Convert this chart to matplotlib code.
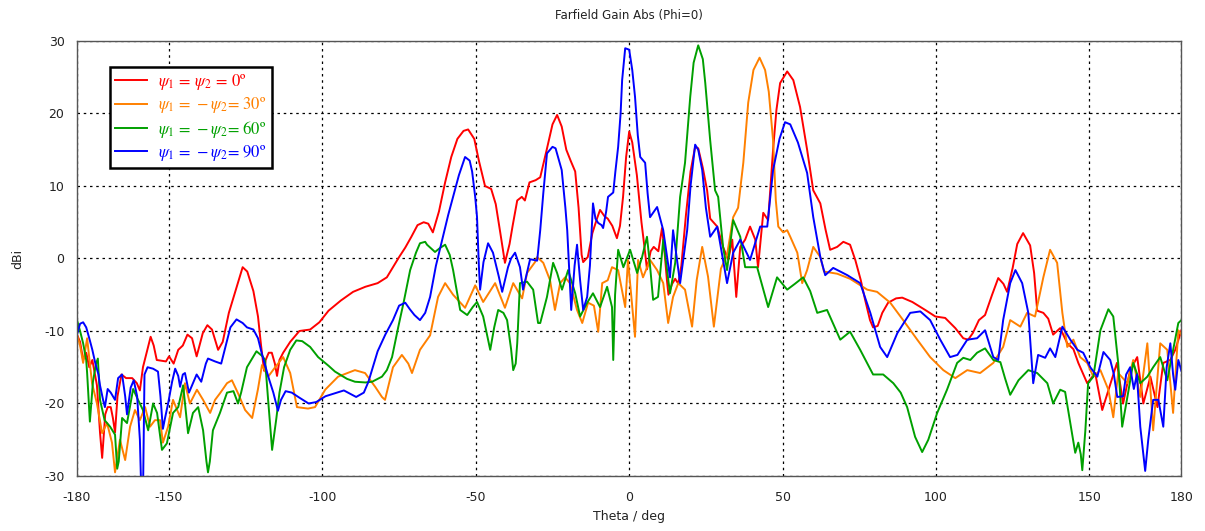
import matplotlib
matplotlib.use("Agg")
import matplotlib.pyplot as plt

plt.rcParams['axes.unicode_minus'] = False
plt.rcParams['mathtext.fontset'] = 'stix'
plt.rcParams['font.family'] = 'DejaVu Sans'

# --- data (theta in deg, gain in dBi) ---
theta_red = [-180, -179, -178, -177, -176, -175, -173.5, -172.5, -171.8, -170.8, -170, -169, -168.3, -167.6,
             -166.8, -165.5, -164, -162, -160.5, -159.5, -158.5, -157, -156, -155, -154, -151, -150, -148.5,
             -147, -145.5, -144, -142.5, -141, -139, -137.5, -136, -134, -132.5, -130.5, -128, -126, -124.5,
             -122.5, -121, -120, -119, -118.5, -117.5, -116.5, -115.5, -114.8, -114, -112.8, -110.5, -107.5,
             -104, -101, -98, -94, -90, -86, -82, -79, -77, -75, -73, -71, -69, -67, -65.5, -64, -62, -60, -58,
             -56, -54, -52.5, -50.5, -49, -47, -45, -43.5, -42, -40.5, -39, -38, -36.5, -35, -34, -32.5, -30.5,
             -29, -27, -25, -23.5, -22, -20.5, -19, -17.6, -16.5, -15.5, -15, -13.5, -12, -10.5, -9.5, -8, -7,
             -5.5, -4, -3, -2, -1, 0, 1, 2.5, 4, 5, 5.8, 7, 8, 9.5, 10.7, 11.5, 12.3, 12.8, 14, 15, 16, 17, 18.5,
             20, 21.5, 22.5, 24, 25.4, 26.4, 28.7, 30.6, 32.3, 33.6, 34.9, 36.2, 37.8, 39.4, 41.1, 42, 43.7, 45.3,
             46.9, 48, 49.2, 51.5, 53.5, 55.7, 58, 60, 62.3, 64, 65.5, 67.8, 69.8, 72, 73.7, 75.5, 76.9, 78.5,
             79.5, 81, 82.5, 84.4, 87, 89, 92.3, 96.5, 99.8, 103, 106.3, 108.9, 110.5, 112, 114, 116, 118.3,
             120.3, 122, 123.2, 125, 126.5, 128.4, 130.7, 132, 133, 135, 136.6, 138.2, 140.5, 142.8, 144.8,
             146.4, 149.3, 151.9, 154.2, 156.8, 159, 161, 163.3, 165.6, 167.6, 169.9, 172.2, 174.1, 176.4, 178,
             180]
gain_red = [-10.5, -11.5, -14.0, -13.0, -15.0, -14.0, -17.5, -24, -27.5, -21.5, -20.5, -20.5, -22, -24,
            -19, -16, -16.5, -16.5, -17.2, -18.2, -15, -12.5, -10.8, -12, -14, -14.2, -13.5, -14.5,
            -12.6, -12, -10.5, -11, -13.5, -10.3, -9.2, -9.8, -12.6, -11.5, -7.5, -4, -1.2, -1.8,
            -4.5, -8, -12, -15.5, -14, -13, -13, -14.5, -16.2, -14, -13, -11.5, -10,
            -9.8, -8.8, -7.2, -5.8, -4.6, -3.9, -3.4, -2.6, -1.2, 0.2, 1.5, 3, 4.6, 5, 4.8, 3.6, 6.5, 10.5, 14,
            16.5, 17.6, 17.8, 16.5, 13.5, 10, 9.6, 7.5, 3.5, -0.6, 2, 4.5, 8, 8.5, 8, 10.5, 10.8,
            11.2, 14.8, 18.5, 19.8, 18.2, 15, 13.4, 12, 7, 0.5, -0.5, 0.2, 3.5, 5.5, 6.7, 5.8, 5.5,
            4.5, 2.8, 4.5, 8.5, 14, 17.5, 16, 11.5, 5, 1.5, -1.5, 1, 1.6, 1, 4.2, 1, -3, -5, -3.5, -2.8, -3.5, -1, 6,
            12, 15.4, 15.2, 12.5, 9.4, 5.5, 4.4, 1.6, -0.2, 2.6, -5.3, 1.6, 2.6, 4.4, 2.6, -1.2, 6.3, 5.3,
            15, 20.5, 24.2, 25.8, 24.6, 20.9, 15, 9.4, 7.6, 4, 1.2, 1.6, 2.3, 1.9, -0.2, -3, -5.7, -8.5,
            -9.5, -9.3, -7.5, -6.1, -5.5, -5.4, -6, -7.1, -8, -8.2, -9.6, -11, -11.2, -10.3, -8.5, -7.8, -5,
            -2.7, -3.5, -4.6, -1.3, 2, 3.5, 1.8, -2, -7.2, -7.5, -8.3, -10.5, -9.6, -11.7, -12.5,
            -14.4, -17.2, -15.8, -20.9, -17.4, -14.4, -20, -15.4, -13.6, -20, -16.3, -20.5, -14.4, -14, -12.6,
            -9.9]

theta_orange = [-180, -179, -178, -176.7, -175.1, -173.5, -171.8, -170.2, -168.6, -167.6, -166, -164.3, -162.7,
                -161.1, -159.5, -157.8, -156.2, -154.6, -152.9, -152, -150.3, -148.7, -146.4, -144.8, -143.2,
                -140.9, -138.9, -136.6, -135, -133.4, -131.1, -129.5, -127.5, -125.2, -122.9, -121, -119.7,
                -117.7, -115.4, -112.8, -110.5, -108.3, -104.7, -102.4, -99.1, -94.9, -89.4, -86.1, -82.8,
                -80.6, -79.6, -77, -74.1, -72, -70.8, -68.2, -64.9, -62.3, -60, -57.4, -53.5, -50.2, -47.6,
                -43.7, -40.5, -37.8, -34.9, -33.3, -30.7, -30, -28, -25.8, -24.2, -22.5, -20.9, -19.3, -17,
                -15.3, -13.4, -11.5, -10.1, -8.8, -7, -5.6, -3.6, -1.3, -0.4, 1.9, 2.9, 4.5, 6.8, 9.1, 11.1,
                12.7, 14.3, 16, 18.2, 20.5, 22, 23.8, 25.7, 27.6, 29.9, 31.9, 33.9, 35.5, 37.2, 38.8, 40.5,
                42.5, 44.3, 45.5, 46.9, 47.8, 48.6, 50.2, 51.5, 52.5, 54.8, 56.4, 58, 60, 62.3, 63.5, 67.8, 72,
                77.6, 80.8, 85.1, 89.3, 93.9, 98.1, 102.4, 106.3, 110.2, 114.4, 118.7, 121.9, 124.2, 127.5,
                129.7, 132.3, 135, 137.2, 139.5, 141.2, 142.8, 144.8, 147, 149.3, 151.3, 153.6, 156.2, 157.8,
                159.4, 162.4, 164.3, 166.6, 168.9, 170.8, 173.1, 175.4, 177.3, 179, 180]
gain_orange = [-10.5, -12, -14.4, -11, -17.2, -20, -24.1, -22.7, -25.4, -29.5, -25, -27.8, -23.2,
               -20.9, -22.3, -20.5, -23.2, -22.3, -22.3, -25.4, -23.2, -19.5, -21.9, -17.2, -20,
               -18.1, -19.5, -21.3, -19.5, -18.6, -17.2, -16.8, -18.6, -20.9, -22, -18, -14.7,
               -16.3, -15, -13.6, -15.8, -20.5, -20.7, -20.5, -18.1, -16.3, -15.4, -15.8, -17.7,
               -19.1, -19.5, -15, -13.3, -14.5, -15.8, -12.6, -10.6, -5.3, -3.4, -5, -6.8, -3.7, -6,
               -3.4, -6.8, -3.4, -5.5, -2, -0.5, 0.2, -0.6, -3, -7.1, -3.4, -2.6, -3.4, -7.1,
               -8.9, -6.1, -6.5, -10.1, -3.4, -3, -1.2, -1.6, -6.7, -0.2, -10.8, -0.2, -2.6, -0.2, -1.6, -3.4,
               -8.9, -5.3, -3.4, -4.3, -9.4, -3, 1.6, -2.5, -9.4, -1.4, 0.5, 5.7, 7, 13.2, 21.5, 26,
               27.7, 26, 23, 16.3, 8, 4.4, 3.6, 3.9, 3, 0.8, -3.4, -1.6, 1.6, 0.2, -1.8, -2.1, -2.8,
               -4.3, -4.6, -6.1, -8.5, -11.2, -13.6, -15.4, -16.5, -15.4, -15.8, -14.4, -12.2, -8.5, -9.4,
               -7.5, -8, -2.6, 1.2, -0.6, -7.5, -12.2, -11.2, -13.6, -14.4, -16.3, -15.4, -18.1, -21.9,
               -15.8, -17.2, -14, -19.1, -11.7, -23.7, -11.7, -12.6, -21.3, -9.9, -10.5]

theta_green = [-180, -179, -178, -177, -176.7, -175.8, -174.8, -173.8, -173.2, -172.5, -171, -169.2, -167.6,
               -166.9, -166.4, -165.3, -163.7, -161.7, -160.1, -158.5, -156.8, -155.2, -153.9, -152.3, -150.7,
               -148.7, -147, -145.4, -143.8, -142.2, -140.5, -138.9, -137.8, -137.3, -136.7, -135.7, -133.4,
               -131.1, -130.1, -129, -127.5, -126.5, -124.6, -121.5, -119.5, -118.7, -117.7, -116.4, -115,
               -114, -112.5, -110.5, -108.5, -106.6, -104, -101.4, -98, -95.9, -92, -89.4, -86, -83.8, -80.6,
               -79, -77.3, -75.3, -73.5, -71.4, -69.5, -68.2, -66.5, -65.9, -63.3, -61.5, -60, -58.5, -57.4,
               -55.1, -52.8, -51, -49.6, -47.6, -45.3, -44, -42.7, -41, -39.8, -38.5, -37.8, -37, -36.5,
               -35.6, -33.3, -31.3, -29.7, -29, -26.8, -24.8, -23.5, -21.9, -19.9, -17.6, -16, -13.7, -11.8,
               -9.5, -7.2, -5.6, -5.2, -4.6, -3.6, -1.9, 0.3, 2.6, 4.2, 5.8, 6.8, 7.8, 9.4, 11.1, 13.3, 15,
               16.6, 18.2, 19.9, 21, 22.5, 24, 24.8, 26.4, 28, 29, 30.6, 31.9, 33.9, 36.2, 37.8, 41.7, 45.3,
               48.2, 51.5, 54, 56.7, 59, 61.3, 64.5, 66.5, 68.8, 72, 75.3, 79.5, 82.8, 86.1, 88.5, 90.6, 93.2,
               95.5, 97.5, 100.4, 103.6, 106.9, 108.9, 111.2, 113.4, 116, 118.7, 121, 122.5, 124.2, 126.9,
               130.1, 133, 136.3, 138.2, 140.5, 142.1, 143.8, 145.4, 146.4, 147.2, 147.7, 148.7, 149.6,
               151.3, 153.6, 156.2, 157.8, 159.4, 160.7, 162.4, 164.3, 166.6, 168.9, 170.8, 173.1, 175.4,
               177.3, 179, 180]
gain_green = [-8.5, -10, -11.7, -14, -15.8, -22.5, -17, -14.5, -13.8, -19.5, -22.3, -23.2, -24.3,
              -29, -28, -22, -22.7, -18, -19.5, -20.9, -23.7, -20, -21.3, -26.4, -25.5,
              -21.3, -20.5, -17.5, -24.1, -21.3, -20.5, -23.7, -28, -29.5, -28, -23.7, -21.3,
              -18.5, -18.4, -18.3, -20, -18.5, -15, -12.8, -13.5, -14, -19.5, -26.4, -22,
              -18.5, -15, -12.6, -11.3, -11.4, -12.2, -13.6, -14.8, -15.6, -16.6, -17, -17.1, -17, -16.3,
              -15.4, -13.6, -9.5, -6, -1.6, 0.8, 2.1, 2.3, 1.9, 0.9, 1.5, 1.9, 0.5, -1.6,
              -7.1, -7.8, -6.7, -6, -8, -12.6, -9.5, -7.1, -7.5, -8.5, -12.5, -15.4, -14.5, -11.7,
              -3.4, -3.2, -4.3, -8.9, -8.9, -5.3, -0.6, -2, -4.3, -1.6, -4.8, -8, -6.1, -4.8,
              -6.7, -3.9, -6.7, -14, -5, 1.2, -1.2, 1.2, -2, 0.2, 3, -1, -5.7, -5.3, 2.6, -4.8, -0.6,
              8.5, 13.2, 22.3, 27, 29.4, 27.5, 24.2, 16.3, 9.4, 8.5, 1.6, -1.6, 5.3, 3, -1.2, -1.2, -6.7,
              -2.6, -4.3, -3.5, -2.6, -4.5, -7.5, -7.1, -9, -11.2, -10.1, -12.6, -16, -16, -17.2, -18.5, -20.5, -24.6,
              -26.7, -25, -21.3, -18.1, -14.4, -13.7, -14, -13, -12.4, -14, -14.3, -16.5, -18.8, -16.8,
              -15.4, -15.8, -17.2, -20, -18.1, -18.4, -22.7, -26.8, -25.4, -27, -29.2, -23.7, -17.2,
              -16.3, -9.9, -7, -8, -14.4, -23.2, -19.1, -14.4, -17.2, -16.3, -15, -13.6, -16.8,
              -12.6, -8.9, -8.5]

theta_blue = [-180, -179, -178, -177, -176, -175, -174, -173, -172.5, -171.5, -170.9, -170, -169, -167.6,
              -166.6, -165.3, -164.3, -163.7, -162.5, -161.5, -160.4, -159.5, -159, -158.5, -158, -157, -155.2,
              -153.6, -152.8, -152, -151.3, -150.3, -149, -148, -147, -146.4, -145.5, -144.8, -143.5, -143,
              -141, -139.5, -138, -137.3, -135, -133, -131.5, -130, -128, -126, -124.6, -122.5, -121, -119.7,
              -117.5, -116, -114.5, -113.5, -112, -110, -107.5, -104.5, -102, -99, -96, -93, -89, -86.5, -85,
              -82, -79.5, -77, -75, -73, -71.5, -70, -68.2, -66.5, -64.9, -63, -60.7, -59, -57.4, -55.5, -53.5,
              -52, -51.2, -50.2, -49.6, -49, -48.6, -47.5, -46, -44.4, -42.5, -41.4, -39.5, -38.5, -37.2,
              -35.6, -34.6, -32.3, -30, -29, -28, -26.8, -25, -24, -22, -20.8, -20.2, -19.5, -18.9, -17.8,
              -17, -16, -15, -13.7, -12.8, -11.8, -11, -10.1, -9, -8.5, -7.5, -6.9, -5.2, -4.5, -3.6, -2.8,
              -2.3, -1.3, 0, 1, 1.9, 2.8, 3.6, 5.2, 6, 6.8, 9.1, 11.1, 13.3, 14.3, 16.6, 18.9, 20, 21.5, 22.5,
              23.8, 25, 26.4, 28.7, 30.5, 31.9, 33.9, 36.2, 39.4, 42.7, 45, 46.9, 49, 50.8, 52.5, 55, 58, 60,
              62.3, 63.9, 66.5, 71.1, 75.3, 78.6, 81.8, 84.1, 87.4, 91.6, 94.9, 98.1, 101.4, 104.6, 107,
              110.2, 113.4, 116, 118.7, 120.3, 121.9, 124.2, 125.9, 128.1, 130.1, 131.7, 133.3, 135.6, 137.2,
              138.9, 141.2, 143.8, 146.1, 148, 150.3, 152.6, 154.6, 156.8, 158, 159.1, 161, 162, 163.3, 164.5,
              165.5, 166.6, 168.2, 169.2, 170.8, 172.5, 174.1, 175.2, 176.4, 177.3, 178, 179, 180]
gain_blue = [-10.5, -9, -8.8, -9.5, -11, -12.6, -14.5, -16, -17.5, -19.5, -20.5, -18, -18.5, -19.5,
             -16.5, -16, -19, -21.5, -17.8, -16.8, -19, -25, -33, -33, -16, -15, -15.2,
             -15.6, -19, -23.5, -22, -20, -17, -15.2, -16.2, -17.7, -16, -15.8, -18.5, -18,
             -16, -17, -14.5, -13.8, -14.2, -14.5, -12, -9.5, -8.4, -8.9, -9.5, -9.8, -11, -13.2,
             -16.5, -18.5, -21, -19.5, -18.3, -18.5, -19.2, -20, -19.8, -19, -18.6, -18.2, -19.1, -18.5, -17,
             -12.8, -10.5, -8.5, -6.5, -6.1, -7, -7.8, -8.5, -7.5, -5.3, -1, 3, 6, 8.5, 11.5, 14,
             13.5, 12, 8.5, 5.7, -1, -4.3, -0.5, 2.1, 0.8, -2.5, -4.6, -1.2, 0, 0.8,
             -1.2, -4.3, -0.1, -0.3, 3.9, 9, 14.5, 15.4, 15.2, 12.2, 7, 3.9, -2, -7.1, -1,
             1.9, -3, -7.1, -5.3, -1, 7.6, 5.5, 4.9, 4.6, 4.2, 6.5, 8.5, 9.1, 12, 15.4, 20,
             24.6, 29, 28.8, 26, 22.3, 17, 14, 13.2, 9, 5.7, 7.1, 3.9, -2.6, 3.9, -3.4, 3.9, 10, 15.7, 15,
             12.2, 7, 3, 4.4, 0, -3.4, 0.8, 2.6, -0.2, 4.4, 4.4, 12.2, 16.5, 18.8, 18.5, 16, 11.8, 5.7,
             0.2, -2.3, -1.3, -2.3, -3.4, -7.5, -12.2, -13.6, -10.3, -7.5, -7.3, -8.5, -11.2, -13.6, -13.3,
             -11.2, -11, -9.9, -13.6, -14, -8.5, -3.4, -1.6, -3.4, -7.5, -17.2, -13.3, -13.7, -12.4,
             -13.6, -9.4, -11.2, -12.6, -13, -15, -16.3, -12.9, -14, -16, -19.1, -19, -16, -15, -18,
             -16, -23.2, -29.3, -25, -19.5, -19.5, -23.2, -15, -11.7, -16, -18.1, -14, -15.5]

labels = [r'$\psi_1\,=\,\psi_2\,=\,$0º',
          r'$\psi_1\,=\,-\psi_2$= 30º',
          r'$\psi_1\,=\,-\psi_2$= 60º',
          r'$\psi_1\,=\,-\psi_2$= 90º']
colors = ['#ff0000', '#ff8000', '#00a000', '#0000ff']
xticks = [-180, -150, -100, -50, 0, 50, 100, 150, 180]
yticks = [-30, -20, -10, 0, 10, 20, 30]

fig = plt.figure(figsize=(12.05, 5.31), dpi=100)
ax = fig.add_axes([0.0639, 0.1036, 0.9165, 0.8192])

series = [(theta_red, gain_red), (theta_orange, gain_orange),
          (theta_green, gain_green), (theta_blue, gain_blue)]
for (t, g), lab, c in zip(series, labels, colors):
    ax.plot(t, g, color=c, lw=1.4, label=lab)

ax.set_xlim(-180, 180)
ax.set_ylim(-30, 30)
ax.set_xticks(xticks)
ax.set_yticks(yticks)
ax.tick_params(length=0, labelsize=9, pad=9, colors='#222222')
ax.tick_params(axis='x', pad=11)
ax.grid(True, color='black', linestyle=(0, (2, 3)), linewidth=0.9)
for s in ax.spines.values():
    s.set_color('#555555')
    s.set_linewidth(1.0)

ax.set_title('Farfield Gain Abs (Phi=0)', fontsize=8.5, pad=16, color='#222222')
ax.set_xlabel('Theta / deg', fontsize=9, labelpad=4, color='#222222')
ax.set_ylabel('dBi', fontsize=9, labelpad=14, color='#222222')

leg = ax.legend(loc='upper left', bbox_to_anchor=(0.03, 0.94), borderaxespad=0,
                fancybox=False, edgecolor='black', framealpha=1, labelcolor='linecolor',
                prop={'family': 'STIXGeneral', 'size': 12}, handlelength=1.9,
                handletextpad=0.7, labelspacing=0.2, borderpad=0.3)
leg.get_frame().set_linewidth(1.8)

fig.savefig('out.png', dpi=100)
